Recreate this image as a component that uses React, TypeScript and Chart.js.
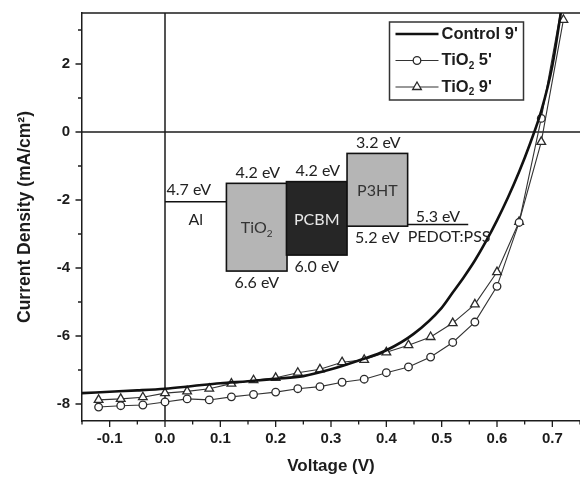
import React, { useEffect, useRef } from 'react';
import { Chart, registerables } from 'chart.js';

Chart.register(...registerables);

// ---- data ----
const markerVoltages = [-0.12, -0.08, -0.04, 0, 0.04, 0.08, 0.12, 0.16, 0.2, 0.24, 0.28, 0.32, 0.36, 0.4, 0.44, 0.48, 0.52, 0.56, 0.6, 0.64, 0.68, 0.72];
const tio2Five = [-8.09, -8.05, -8.03, -7.94, -7.85, -7.88, -7.79, -7.72, -7.65, -7.55, -7.49, -7.36, -7.27, -7.08, -6.91, -6.62, -6.19, -5.59, -4.54, -2.66, 0.4, 4.0];
const tio2Nine = [-7.88, -7.85, -7.8, -7.68, -7.63, -7.55, -7.4, -7.3, -7.23, -7.08, -6.98, -6.77, -6.7, -6.48, -6.27, -6.03, -5.62, -5.07, -4.12, -2.64, -0.29, 3.3];
const controlVoltages = [-0.15, -0.1, -0.05, 0, 0.05, 0.1, 0.15, 0.2, 0.25, 0.3, 0.35, 0.4, 0.45, 0.5, 0.52, 0.54, 0.56, 0.58, 0.6, 0.62, 0.64, 0.66, 0.68, 0.7, 0.72];
const controlNine = [-7.68, -7.64, -7.6, -7.55, -7.47, -7.39, -7.33, -7.26, -7.18, -6.98, -6.72, -6.42, -5.93, -5.17, -4.72, -4.27, -3.78, -3.22, -2.6, -1.92, -1.17, -0.33, 0.62, 1.95, 4.0];
const seriesLabels = ["Control 9'", "TiO\u2082 5'", "TiO\u2082 9'"];

const xTicks = [-0.15, -0.1, -0.05, 0, 0.05, 0.1, 0.15, 0.2, 0.25, 0.3, 0.35, 0.4, 0.45, 0.5, 0.55, 0.6, 0.65, 0.7, 0.75];
const xTickLabels = ['', '-0.1', '', '0.0', '', '0.1', '', '0.2', '', '0.3', '', '0.4', '', '0.5', '', '0.6', '', '0.7', ''];
const yTicks = [-8, -7, -6, -5, -4, -3, -2, -1, 0, 1, 2, 3];
const yTickLabels = ['-8', '', '-6', '', '-4', '', '-2', '', '0', '', '2', ''];

// band-diagram inset (energy levels, eV)
const bandLayers = ['TiO\u2082', 'PCBM', 'P3HT'];
const bandTopLabels = ['4.2 eV', '4.2 eV', '3.2 eV'];
const bandBottomLabels = ['6.6 eV', '6.0 eV', '5.2 eV'];

const FONT = "'Liberation Sans', Arial, sans-serif";
const INSET_FONT = "Lato, 'Open Sans', sans-serif";
const INK = '#1c1c1c';

function drawSubText(ctx: CanvasRenderingContext2D, text: string, x: number, y: number, size: number, weight: string, family: string, align: 'left' | 'center') {
  const parts = text.split('\u2082');
  const big = `${weight} ${size}px ${family}`;
  const small = `${weight} ${Math.round(size * 0.62)}px ${family}`;
  let total = 0;
  const widths: number[] = [];
  parts.forEach((p, i) => {
    ctx.font = big;
    const w = ctx.measureText(p).width;
    widths.push(w);
    total += w;
    if (i < parts.length - 1) {
      ctx.font = small;
      total += ctx.measureText('2').width;
    }
  });
  let cx = align === 'center' ? x - total / 2 : x;
  ctx.textAlign = 'left';
  ctx.textBaseline = 'middle';
  parts.forEach((p, i) => {
    ctx.font = big;
    ctx.fillText(p, cx, y);
    cx += widths[i];
    if (i < parts.length - 1) {
      ctx.font = small;
      ctx.fillText('2', cx, y + size * 0.33);
      cx += ctx.measureText('2').width;
    }
  });
}

function drawMarker(ctx: CanvasRenderingContext2D, style: string, x: number, y: number, r: number) {
  ctx.beginPath();
  if (style === 'circle') {
    ctx.arc(x, y, r, 0, Math.PI * 2);
  } else if (style === 'triangle') {
    for (let k = 0; k < 3; k++) {
      const a = (k * 2 * Math.PI) / 3;
      const px = x + Math.sin(a) * r;
      const py = y - Math.cos(a) * r;
      if (k === 0) ctx.moveTo(px, py); else ctx.lineTo(px, py);
    }
    ctx.closePath();
  } else {
    return;
  }
  ctx.fill();
  ctx.stroke();
}

const zeroPad = (s: any) => { s.paddingLeft = 0; s.paddingRight = 0; s.paddingTop = 0; s.paddingBottom = 0; };

const decorPlugin = {
  id: 'decor',
  beforeDatasetsDraw(chart: any) {
    const { ctx, chartArea: a, scales } = chart;
    const xs = scales.x, ys = scales.y;
    ctx.save();
    ctx.strokeStyle = INK;
    ctx.lineWidth = 1.5;
    const y0 = ys.getPixelForValue(0);
    const x0 = xs.getPixelForValue(0);
    ctx.beginPath();
    ctx.moveTo(a.left, y0); ctx.lineTo(a.right, y0);
    ctx.moveTo(x0, a.top); ctx.lineTo(x0, a.bottom);
    ctx.moveTo(a.left - 0.75, a.top); ctx.lineTo(a.right, a.top);
    ctx.stroke();
    ctx.lineWidth = 1.3;
    ctx.beginPath();
    xTicks.forEach((v, i) => {
      const px = xs.getPixelForValue(v);
      const len = xTickLabels[i] ? 6 : 3.5;
      ctx.moveTo(px, a.bottom); ctx.lineTo(px, a.bottom + len);
    });
    yTicks.forEach((v, i) => {
      const py = ys.getPixelForValue(v);
      const len = yTickLabels[i] ? 6.5 : 4;
      ctx.moveTo(a.left, py); ctx.lineTo(a.left - len, py);
    });
    ctx.stroke();
    ctx.restore();
  },
  afterDatasetsDraw(chart: any) {
    const { ctx, scales } = chart;
    const xs = scales.x, ys = scales.y;
    const X = (v: number) => xs.getPixelForValue(v);
    const Y = (v: number) => ys.getPixelForValue(v);
    ctx.save();
    const boxX = [0.111, 0.2195, 0.329];
    const boxW = 0.1095;
    const boxTop = [-1.51, -1.46, -0.63];
    const boxBottom = [-4.09, -3.62, -2.77];
    const boxFill = ['#b5b5b5', '#262626', '#b5b5b5'];
    const boxText = ['#333333', '#e8e8e8', '#333333'];
    ctx.strokeStyle = '#111';
    ctx.lineWidth = 1.6;
    ctx.beginPath();
    ctx.moveTo(X(0), Y(-2.05)); ctx.lineTo(X(0.111), Y(-2.05));
    ctx.moveTo(X(0.4385), Y(-2.72)); ctx.lineTo(X(0.548), Y(-2.72));
    ctx.stroke();
    bandLayers.forEach((name, i) => {
      const l = X(boxX[i]), r = X(boxX[i] + boxW);
      const t = Y(boxTop[i]), b = Y(boxBottom[i]);
      ctx.fillStyle = boxFill[i];
      ctx.fillRect(l, t, r - l, b - t);
      ctx.strokeRect(l, t, r - l, b - t);
    });
    bandLayers.forEach((name, i) => {
      const l = X(boxX[i]), r = X(boxX[i] + boxW);
      const t = Y(boxTop[i]), b = Y(boxBottom[i]);
      const cx = (l + r) / 2;
      ctx.fillStyle = '#222';
      drawSubText(ctx, bandTopLabels[i], cx + 1, t - 10.5, 16, 'normal', INSET_FONT, 'center');
      drawSubText(ctx, bandBottomLabels[i], cx, b + 11.5, 16, 'normal', INSET_FONT, 'center');
      ctx.fillStyle = boxText[i];
      drawSubText(ctx, name, cx, (t + b) / 2 + 1, 16, 'normal', INSET_FONT, 'center');
    });
    ctx.fillStyle = '#222';
    drawSubText(ctx, '4.7 eV', X(0) + 1.5, Y(-2.05) - 12, 16, 'normal', INSET_FONT, 'left');
    drawSubText(ctx, 'Al', (X(0) + X(0.111)) / 2, Y(-2.05) + 18, 16, 'normal', INSET_FONT, 'center');
    drawSubText(ctx, '5.3 eV', (X(0.4385) + X(0.548)) / 2, Y(-2.72) - 7.5, 16, 'normal', INSET_FONT, 'center');
    drawSubText(ctx, 'PEDOT:PSS', X(0.4385), Y(-2.72) + 12.5, 16, 'normal', INSET_FONT, 'left');

    const lx = 389.5, ly = 22, lw = 134, lh = 78;
    ctx.fillStyle = '#fff';
    ctx.fillRect(lx, ly, lw, lh);
    ctx.strokeStyle = '#333';
    ctx.lineWidth = 1.5;
    ctx.strokeRect(lx, ly, lw, lh);
    chart.data.datasets.forEach((ds: any, i: number) => {
      const ry = ly + 12 + i * 26.5;
      ctx.strokeStyle = ds.borderColor;
      ctx.lineWidth = ds.borderWidth;
      ctx.beginPath();
      ctx.moveTo(lx + 6, ry); ctx.lineTo(lx + 49, ry);
      ctx.stroke();
      if (ds.pointRadius > 0) {
        ctx.fillStyle = ds.pointBackgroundColor;
        ctx.strokeStyle = ds.pointBorderColor;
        ctx.lineWidth = ds.pointBorderWidth;
        drawMarker(ctx, ds.pointStyle, lx + 27.5, ry, ds.pointRadius);
      }
      ctx.fillStyle = INK;
      drawSubText(ctx, ds.label, lx + 52, ry, 16.5, 'bold', FONT, 'left');
    });
    ctx.restore();
  },
};

export default function App() {
  const ref = useRef<HTMLCanvasElement>(null);
  useEffect(() => {
    if (!ref.current) return;
    const tickFont = { family: FONT, size: 15, weight: 'bold' as const };
    const chart = new Chart(ref.current, {
      type: 'scatter',
      data: {
        datasets: [
          {
            label: seriesLabels[0],
            data: controlVoltages.map((v, i) => ({ x: v, y: controlNine[i] })),
            showLine: true,
            borderColor: '#111',
            borderWidth: 2.6,
            pointRadius: 0,
            pointStyle: 'line',
            tension: 0.4,
            cubicInterpolationMode: 'monotone',
          },
          {
            label: seriesLabels[1],
            data: markerVoltages.map((v, i) => ({ x: v, y: tio2Five[i] })),
            showLine: true,
            borderColor: '#333',
            borderWidth: 1.1,
            pointStyle: 'circle',
            pointRadius: 3.8,
            pointBackgroundColor: '#fff',
            pointBorderColor: '#2a2a2a',
            pointBorderWidth: 1.3,
            tension: 0,
          },
          {
            label: seriesLabels[2],
            data: markerVoltages.map((v, i) => ({ x: v, y: tio2Nine[i] })),
            showLine: true,
            borderColor: '#333',
            borderWidth: 1.1,
            pointStyle: 'triangle',
            pointRadius: 5,
            pointBackgroundColor: '#fff',
            pointBorderColor: '#2a2a2a',
            pointBorderWidth: 1.3,
            tension: 0,
          },
        ],
      },
      options: {
        animation: false,
        responsive: false,
        maintainAspectRatio: false,
        events: [],
        layout: { autoPadding: false, padding: { top: 13, right: 0, left: 0, bottom: 0 } },
        plugins: { legend: { display: false }, tooltip: { enabled: false } },
        scales: {
          x: {
            type: 'linear',
            min: -0.15,
            max: 0.75,
            afterBuildTicks: (s: any) => { s.ticks = xTicks.map((v) => ({ value: v })); },
            afterFit: (s: any) => { s.height = 56; zeroPad(s); },
            grid: { display: false, drawTicks: false },
            border: { display: true, color: INK, width: 1.5 },
            ticks: {
              padding: 9,
              color: INK,
              font: tickFont,
              maxRotation: 0,
              autoSkip: false,
              callback: (_v: any, i: number) => xTickLabels[i],
            },
            title: {
              display: true,
              text: 'Voltage (V)',
              color: INK,
              font: { family: FONT, size: 17, weight: 'bold' },
              padding: { top: 0, bottom: 0 },
            },
          },
          y: {
            type: 'linear',
            min: -8.5,
            max: 3.5,
            afterBuildTicks: (s: any) => { s.ticks = yTicks.map((v) => ({ value: v })); },
            afterFit: (s: any) => { s.width = 82; zeroPad(s); },
            grid: { display: false, drawTicks: false },
            border: { display: true, color: INK, width: 1.5 },
            ticks: {
              padding: 12,
              color: INK,
              font: tickFont,
              autoSkip: false,
              callback: (_v: any, i: number) => yTickLabels[i],
            },
            title: {
              display: true,
              text: 'Current Density (mA/cm\u00b2)',
              color: INK,
              font: { family: FONT, size: 17.5, weight: 'bold' },
              padding: { top: 15, bottom: 0 },
            },
          },
        },
      },
      plugins: [decorPlugin],
    });
    return () => chart.destroy();
  }, []);
  return (
    <div style={{ position: 'absolute', left: 0, top: 0, width: 580, height: 477, background: '#fff' }}>
      <canvas ref={ref} width={580} height={477} style={{ display: 'block' }} />
    </div>
  );
}
